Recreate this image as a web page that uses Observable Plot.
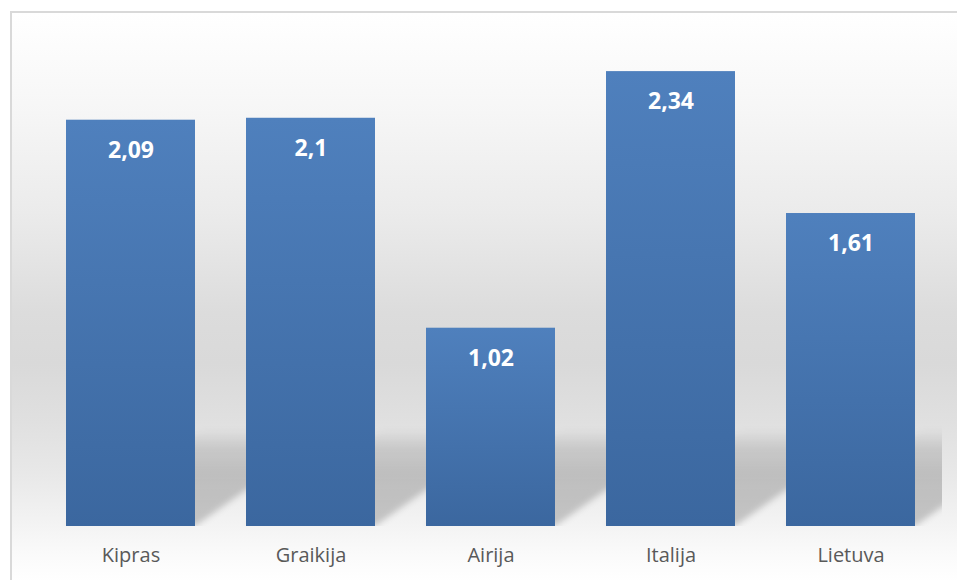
<!DOCTYPE html>
<html>
<head>
<meta charset="utf-8">
<script src="https://cdn.jsdelivr.net/npm/d3@7"></script>
<script src="https://cdn.jsdelivr.net/npm/@observablehq/plot@0.6"></script>
<style>
  html, body { margin: 0; padding: 0; background: #fff; overflow: hidden; }
  #wrap { position: relative; width: 957px; height: 580px; overflow: hidden; }
  #bg {
    position: absolute; left: 10px; top: 11px; width: 960px; height: 600px;
    box-sizing: border-box;
    border-left: 2px solid #d9d9d9; border-top: 2px solid #d9d9d9;
    background: linear-gradient(to bottom,
      #ffffff 0px, #f7f7f7 90px, #ebebeb 200px, #dcdcdc 300px, #d9d9d9 350px,
      #e0e0e0 410px, #e8e8e8 460px, #f3f3f3 510px, #fafafa 540px, #ffffff 569px);
  }
  #chart { position: absolute; left: 0; top: 0; }
</style>
</head>
<body>
<svg width="0" height="0" style="position:absolute">
  <defs>
    <linearGradient id="barGrad" x1="0" y1="0" x2="0" y2="1">
      <stop offset="0" stop-color="#4f80bd"/>
      <stop offset="1" stop-color="#3b679f"/>
    </linearGradient>
    <linearGradient id="shadowGrad" x1="0" y1="0" x2="0" y2="1">
      <stop offset="0" stop-color="#000" stop-opacity="0"/>
      <stop offset="0.2" stop-color="#000" stop-opacity="0.12"/>
      <stop offset="0.45" stop-color="#000" stop-opacity="0.18"/>
      <stop offset="1" stop-color="#000" stop-opacity="0.2"/>
    </linearGradient>
    <filter id="shadowBlur" x="-20%" y="-20%" width="140%" height="140%">
      <feGaussianBlur stdDeviation="3"/>
    </filter>
  </defs>
</svg>
<div id="wrap">
  <div id="bg"></div>
  <div id="chart"></div>
</div>
<script>
const categories = ["Kipras", "Graikija", "Airija", "Italija", "Lietuva"];
const values = [2.09, 2.1, 1.02, 2.34, 1.61];

const data = categories.map((c, i) => ({category: c, value: values[i]}));
const fmt = v => String(v).replace(".", ",");
const shadowDepth = 0.5;

const chart = Plot.plot({
  width: 957,
  height: 580,
  marginLeft: 39,
  marginRight: 15,
  marginTop: 40,
  marginBottom: 54,
  style: {background: "transparent", overflow: "visible"},
  x: {domain: categories, paddingInner: 0.285, paddingOuter: 0.1425, axis: null},
  y: {domain: [0, 2.5], axis: null},
  marks: [
    Plot.rect(data, {x: "category", y1: 0, y2: shadowDepth, fill: "url(#shadowGrad)", clip: true}),
    Plot.barY(data, {x: "category", y: "value", fill: "url(#barGrad)"}),
    Plot.text(data, {x: "category", y: "value", text: d => fmt(d.value), dy: 30,
      fill: "white", fontWeight: "bold", fontSize: 23, fontFamily: "Open Sans", lineAnchor: "middle"}),
    Plot.text(data, {x: "category", y: 0, text: "category", dy: 29,
      fill: "#595959", fontSize: 20, fontFamily: "Open Sans", lineAnchor: "middle"})
  ]
});

document.getElementById("chart").appendChild(chart);

// perspective shadow: shear the shadow rects back to the right
const y0 = chart.scale("y").apply(0);
const groups = chart.querySelectorAll("g[aria-label='rect']");
if (groups.length) {
  const g = groups[0];
  g.setAttribute("filter", "url(#shadowBlur)");
  g.querySelectorAll("rect").forEach(r => {
    r.setAttribute("transform", `translate(0,${y0}) skewX(-54.8) translate(0,${-y0})`);
  });
}
</script>
</body>
</html>
